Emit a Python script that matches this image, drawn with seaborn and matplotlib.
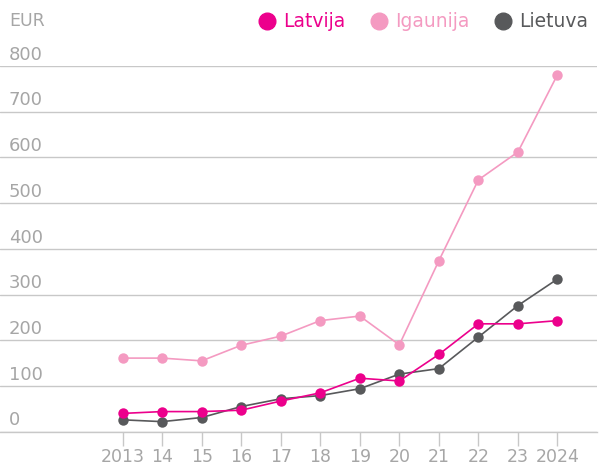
import matplotlib
matplotlib.use('Agg')
from matplotlib import pyplot as plt
from matplotlib.lines import Line2D
import seaborn as sns
import pandas as pd

years = [2013, 2014, 2015, 2016, 2017, 2018, 2019, 2020, 2021, 2022, 2023, 2024]
year_labels = ['2013', '14', '15', '16', '17', '18', '19', '20', '21', '22', '23', '2024']
latvija = [40, 44, 44, 47, 67, 85, 117, 111, 169, 236, 236, 243]
igaunija = [161, 161, 155, 189, 209, 243, 253, 190, 374, 551, 612, 781]
lietuva = [26, 22, 31, 55, 72, 79, 94, 126, 138, 207, 276, 334]
y_ticks = [0, 100, 200, 300, 400, 500, 600, 700, 800]

colors = {'Latvija': '#EC008C', 'Igaunija': '#F49AC1', 'Lietuva': '#58595B'}

df = pd.DataFrame({
    'year': years * 3,
    'value': latvija + igaunija + lietuva,
    'country': ['Latvija'] * 12 + ['Igaunija'] * 12 + ['Lietuva'] * 12,
})

sns.set_style('white')
plt.rcParams['font.family'] = ['DejaVu Sans']

fig = plt.figure(figsize=(6, 4.7), dpi=100)
ax = fig.add_axes([0.0, 0.0815, 0.995, 0.778])

# draw order: pink first, magenta on top
for i, c in enumerate(['Igaunija', 'Lietuva', 'Latvija']):
    sns.lineplot(data=df[df.country == c], x='year', y='value', color=colors[c],
                 marker='o', markersize=7.5, markeredgewidth=0, linewidth=1.2,
                 ax=ax, legend=False, zorder=3 + i, clip_on=False)

ax.set_xlim(2009.9, 2025.0)
ax.set_ylim(0, 800)
ax.set_xticks(years)
ax.set_xticklabels(year_labels)
ax.set_yticks(y_ticks)
ax.set_yticklabels([])
ax.set_xlabel('')
ax.set_ylabel('')
ax.grid(axis='y', color='#c8c8c8', linewidth=1)
ax.set_axisbelow(True)
for s in ['top', 'right', 'left']:
    ax.spines[s].set_visible(False)
ax.spines['bottom'].set_color('#c8c8c8')
ax.spines['bottom'].set_linewidth(1)
ax.tick_params(axis='x', length=10, width=1, color='#c8c8c8', labelcolor='#a6a6a6',
               labelsize=12.5, pad=2, bottom=True)
ax.tick_params(axis='y', length=0, left=False)

# y labels sit above grid lines
for v in y_ticks:
    ax.text(0.015, v + 5, str(v), transform=ax.get_yaxis_transform(),
            ha='left', va='bottom', fontsize=13, color='#a6a6a6')
fig.text(0.015, 0.955, 'EUR', ha='left', va='center', fontsize=12.5, color='#a6a6a6')

handles = [Line2D([], [], color=colors[c], marker='o', linestyle='', markersize=12)
           for c in ['Latvija', 'Igaunija', 'Lietuva']]
leg = fig.legend(handles, ['Latvija', 'Igaunija', 'Lietuva'], loc='upper right',
                 bbox_to_anchor=(1.008, 1.01), ncol=3, frameon=False, fontsize=13.5,
                 handletextpad=0.35, columnspacing=1.3, handlelength=1.0)
for t, c in zip(leg.get_texts(), ['Latvija', 'Igaunija', 'Lietuva']):
    t.set_color(colors[c])

fig.savefig('out.png', dpi=100)
